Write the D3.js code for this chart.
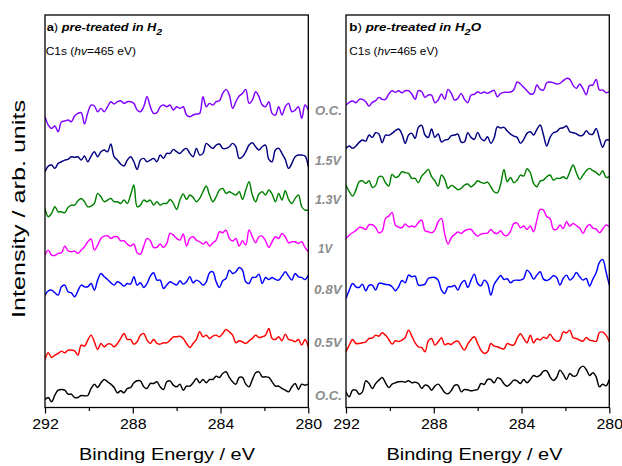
<!DOCTYPE html>
<html><head><meta charset="utf-8">
<script src="https://cdn.jsdelivr.net/npm/d3@7"></script>
<style>body{margin:0;background:#fff} svg{display:block}</style>
</head><body>
<svg id="chart" width="622" height="466"></svg>
<script>
// ---------------- DATA ----------------
const energy = [
292,291.85,291.7,291.55,291.4,291.25,291.1,290.95,290.8,290.65,
290.5,290.35,290.2,290.05,289.9,289.75,289.6,289.45,289.3,289.15,
289,288.85,288.7,288.55,288.4,288.25,288.1,287.95,287.8,287.65,
287.5,287.35,287.2,287.05,286.9,286.75,286.6,286.45,286.3,286.15,
286,285.85,285.7,285.55,285.4,285.25,285.1,284.95,284.8,284.65,
284.5,284.35,284.2,284.05,283.9,283.75,283.6,283.45,283.3,283.15,
283,282.85,282.7,282.55,282.4,282.25,282.1,281.95,281.8,281.65,
281.5,281.35,281.2,281.05,280.9,280.75,280.6,280.45,280.3,280.15,
280];

const voltageLabels = ["O.C.","1.5V","1.3V","1V","0.8V","0.5V","O.C."];
const stackOffsets = [632,632,302,302,302,-58,-58];
const xTicksMajor = [292,288,284,280];
const xTicksMinor = [290,286,282];

// (a) pre-treated in H2
const h2_OC_final = [
230,205,195,202,185,215,217,220,215,232,
240,242,208,242,265,262,245,255,245,260,
275,268,275,278,270,275,275,270,250,245,
260,290,260,240,242,260,265,260,265,250,
260,255,260,235,230,235,238,240,290,260,
270,265,275,278,300,312,295,255,275,292,
300,312,270,280,305,290,265,260,275,240,
235,260,235,260,270,245,250,260,225,265,
250];
const h2_1_5V = [
65,82,85,75,90,95,100,102,110,108,
110,100,112,95,112,125,110,125,130,125,
148,110,100,88,82,100,110,95,72,100,
105,95,100,105,95,115,105,120,120,132,
125,120,130,135,120,110,135,115,120,150,
142,135,145,148,135,135,140,150,140,105,
110,125,145,152,140,130,140,145,102,95,
130,135,120,102,75,90,110,115,115,112,
80];
const h2_1_3V = [
285,260,270,290,275,275,272,288,295,295,
308,315,305,290,292,300,330,320,305,310,
315,305,305,300,310,300,325,355,290,295,
310,305,310,295,305,295,300,300,312,300,
282,310,328,312,325,318,305,315,335,352,
325,305,320,340,345,330,335,330,325,335,
312,340,365,325,305,328,335,325,340,328,
305,330,310,338,312,300,315,325,290,280,
280];
const h2_1_0V = [
145,160,145,144,150,152,172,158,155,157,
150,160,170,185,193,160,175,195,202,203,
195,200,200,188,188,178,172,178,152,148,
172,195,188,168,168,178,168,180,210,205,
195,190,208,172,195,200,190,185,178,185,
172,182,190,215,212,220,195,187,195,172,
188,175,220,200,182,200,202,188,168,185,
200,195,210,200,182,185,185,180,185,168,
155];
const h2_0_8V = [
25,38,40,32,25,50,55,35,32,20,
38,55,50,50,60,40,70,90,80,72,
62,55,65,60,52,60,58,80,55,62,
48,60,82,92,70,70,45,55,65,60,
55,68,58,65,80,62,70,65,55,65,
92,95,65,48,68,75,100,90,95,108,
100,65,60,78,78,88,60,78,72,78,
72,70,82,95,82,70,90,80,78,72,
85];
const h2_0_5V = [
192,212,198,205,210,217,212,220,220,218,
205,235,232,250,265,245,222,240,230,238,
238,230,240,255,270,252,252,238,245,265,
270,250,240,252,240,238,242,242,250,260,
260,262,255,240,228,240,252,275,260,265,
255,262,265,260,270,282,275,265,242,248,
245,240,248,255,265,258,260,265,285,255,
252,260,248,268,252,250,245,252,235,252,
230];
const h2_OC_initial = [
72,78,65,85,100,102,100,88,88,78,
78,84,83,84,105,118,108,122,132,125,
118,108,92,98,92,105,108,122,128,128,
110,105,120,120,125,110,102,125,128,115,
110,118,100,112,112,122,135,122,132,122,
132,132,142,138,150,155,138,125,118,138,
138,118,110,132,152,155,140,140,138,125,
112,112,105,100,95,110,120,102,118,115,
118];

// (b) pre-treated in H2O
const h2o_OC_final = [
265,273,277,272,282,282,275,262,273,278,
288,282,282,298,308,303,308,302,308,308,
298,282,308,305,288,295,295,272,280,298,
282,312,300,280,285,300,282,272,295,297,
305,300,304,300,305,309,290,300,303,303,
304,311,334,328,318,308,298,300,325,312,
310,332,334,332,328,330,338,345,342,324,
315,328,314,296,324,325,342,310,310,302,
305];
const h2o_1_5V = [
135,142,135,142,153,160,157,175,168,182,
178,152,175,174,180,188,193,178,150,175,
180,165,198,204,175,168,193,168,178,154,
160,162,173,175,178,154,155,182,168,162,
183,165,158,170,150,166,200,196,198,187,
178,172,168,150,162,180,185,175,192,205,
175,142,168,182,185,195,197,202,185,182,
179,173,175,188,178,178,195,165,138,160,
160];
const h2o_1_3V = [
355,335,322,340,365,368,360,368,348,354,
380,380,362,352,387,378,382,395,392,390,
375,375,362,382,392,402,380,368,352,385,
372,345,354,349,341,345,355,358,350,357,
368,363,360,364,350,335,332,358,402,365,
378,362,370,385,382,404,392,360,350,367,
370,380,385,370,375,375,380,374,395,415,
392,372,385,398,405,398,393,385,398,378,
380];
const h2o_1_0V = [
195,205,212,219,228,227,222,236,236,228,
212,217,255,262,273,235,229,227,238,230,
232,230,243,250,218,215,212,220,245,255,
208,178,197,207,214,210,218,222,222,210,
202,208,210,211,222,212,210,218,205,204,
217,240,241,227,232,222,232,215,250,282,
280,260,255,223,222,235,225,245,232,240,
233,226,210,228,237,226,223,212,223,235,
230];
const h2o_0_8V = [
15,40,60,50,48,58,38,54,55,40,
60,60,57,56,50,38,50,69,62,85,
80,82,55,55,58,75,78,78,70,40,
30,50,50,54,40,60,69,48,70,88,
60,53,70,60,25,57,72,84,72,74,
62,69,70,70,75,100,90,73,85,95,
73,69,74,83,78,55,75,85,70,78,
93,80,70,75,52,73,92,123,132,95,
55];
const h2o_0_5V = [
215,235,252,240,240,242,245,255,256,265,
262,272,265,252,238,248,246,250,258,280,
262,242,230,228,215,248,255,235,245,257,
236,240,237,245,247,232,220,238,252,260,
240,220,210,215,240,232,230,226,224,240,
236,235,255,269,255,242,265,242,254,250,
259,255,268,254,247,250,275,272,280,257,
255,250,247,258,250,248,246,273,274,265,
245];
const h2o_OC_initial = [
95,80,100,100,88,95,128,120,105,120,
130,138,122,108,118,122,125,126,124,128,
122,124,120,105,115,112,100,112,118,107,
93,89,99,114,115,95,102,101,98,100,
102,120,117,132,132,122,137,133,119,112,
120,130,128,120,132,122,132,144,140,145,
157,158,140,129,138,160,148,132,150,142,
144,165,172,162,144,152,140,110,118,113,
132];

const seriesH2  = [h2_OC_final, h2_1_5V, h2_1_3V, h2_1_0V, h2_0_8V, h2_0_5V, h2_OC_initial];
const seriesH2O = [h2o_OC_final, h2o_1_5V, h2o_1_3V, h2o_1_0V, h2o_0_8V, h2o_0_5V, h2o_OC_initial];

// ---------------- STYLE / LAYOUT ----------------
const lineColors = ["#8000ff","#000080","#008000","#ff00ff","#0000ff","#ff0000","#000000"];
const FONT = "'Liberation Sans', Arial, Helvetica, sans-serif";
const plotTop = 15, plotBottom = 407.5;
const panels = [
  {left:45, right:308.3, series:seriesH2, letter:"a", sub:"", titleW:115.6, subW:90.3, axisLabelX:167},
  {left:346, right:609.3, series:seriesH2O, letter:"b", sub:"O", titleW:132.4, subW:89, axisLabelX:474.5}
];

const svg = d3.select("#chart");
svg.append("rect").attr("width",622).attr("height",466).attr("fill","#fff");

const y = d3.scaleLinear().domain([-10, 1167]).range([plotBottom, plotTop]);

function fitText(t, x, yy, width){
  const w = t.node().getBBox().width;
  const s = width / w;
  t.attr("transform", `translate(${x},${yy}) scale(${s},1)`);
}

panels.forEach((p, pi) => {
  const x = d3.scaleLinear().domain([292, 280]).range([p.left, p.right]);
  const g = svg.append("g");
  const clipId = "clip" + pi;
  svg.append("clipPath").attr("id", clipId).append("rect")
    .attr("x", p.left).attr("y", plotTop).attr("width", p.right - p.left).attr("height", plotBottom - plotTop);

  const line = d3.line()
    .x((d, i) => x(energy[i]))
    .y(d => d)
    .curve(d3.curveCatmullRom.alpha(0.5));

  const lines = g.append("g").attr("clip-path", `url(#${clipId})`);
  p.series.forEach((vals, k) => {
    lines.append("path")
      .attr("d", line(vals.map(v => y(v + stackOffsets[k]))))
      .attr("fill","none").attr("stroke", lineColors[k])
      .attr("stroke-width", 1.45).attr("stroke-linejoin","round");
  });

  // frame
  g.append("rect").attr("x", p.left).attr("y", plotTop)
    .attr("width", p.right - p.left).attr("height", plotBottom - plotTop)
    .attr("fill","none").attr("stroke","#000").attr("stroke-width",1.3);

  // axes
  const axMaj = d3.axisBottom(x).tickValues(xTicksMajor).tickSize(6).tickSizeOuter(0).tickPadding(6).tickFormat(d3.format("d"));
  const axMin = d3.axisBottom(x).tickValues(xTicksMinor).tickSize(3.5).tickSizeOuter(0).tickFormat("");
  const gMaj = g.append("g").attr("transform", `translate(0,${plotBottom})`).call(axMaj);
  const gMin = g.append("g").attr("transform", `translate(0,${plotBottom})`).call(axMin);
  [gMaj, gMin].forEach(a => { a.select(".domain").remove(); a.selectAll("line").attr("stroke","#000").attr("stroke-width",1.2); });
  gMaj.selectAll("text").attr("font-family", FONT).attr("font-size", 14).attr("fill","#000")
    .attr("transform","scale(1.14,1)");

  // axis title
  const at = svg.append("text").attr("font-family", FONT).attr("font-size", 16.3).attr("text-anchor","middle")
    .text("Binding Energy / eV");
  fitText(at, p.axisLabelX, 460, 176);

  // panel title
  const tt = svg.append("text").attr("font-family", FONT).attr("font-size", 11).attr("fill","#000");
  tt.append("tspan").attr("font-weight","bold").text(p.letter);
  tt.append("tspan").text(")");
  tt.append("tspan").attr("font-weight","bold").attr("font-style","italic").text(" pre-treated in H");
  tt.append("tspan").attr("font-weight","bold").attr("font-style","italic").attr("font-size",9).attr("dy",3.5).text("2");
  if (p.sub) tt.append("tspan").attr("font-weight","bold").attr("font-style","italic").attr("dy",-3.5).text(p.sub);
  fitText(tt, p.left + (pi ? 3.3 : 1.7), 31, p.titleW);

  const st = svg.append("text").attr("font-family", FONT).attr("font-size", 11).attr("fill","#000");
  st.append("tspan").text("C1s (");
  st.append("tspan").attr("font-style","italic").text("hv");
  st.append("tspan").text("=465 eV)");
  fitText(st, p.left + (pi ? 3.3 : 0.7), 55, p.subW);
});

// y-axis title
const yt = svg.append("text").attr("font-family", FONT).attr("font-size", 18).attr("text-anchor","middle")
  .text("Intensity / arb. units");
{
  const w = yt.node().getBBox().width;
  yt.attr("transform", `translate(25,209) rotate(-90) scale(${218 / w},1)`);
}

// voltage labels between panels
const labelPos = [[315,115,27],[315,165,27],[315,204,27],[318,253,15],[314,294,29],[314,347,29],[315,400,27]];
voltageLabels.forEach((lab, k) => {
  const t = svg.append("text").attr("font-family", FONT).attr("font-size", 12)
    .attr("font-weight","bold").attr("font-style","italic").attr("fill","#8c8c8c").text(lab);
  fitText(t, labelPos[k][0], labelPos[k][1], labelPos[k][2]);
});
</script>
</body></html>
